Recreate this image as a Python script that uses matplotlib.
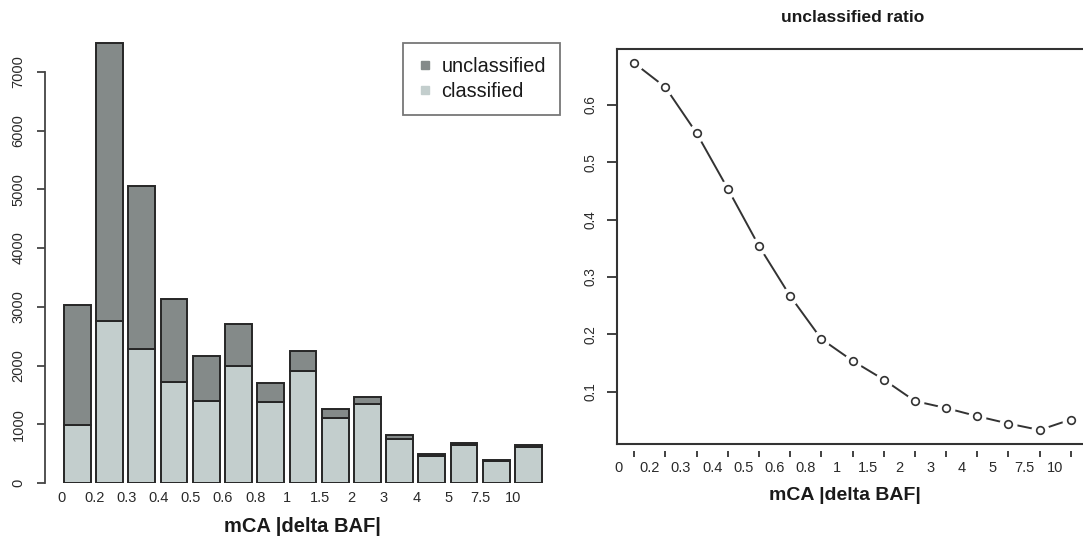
import matplotlib
matplotlib.use("Agg")
import matplotlib.pyplot as plt
from matplotlib.lines import Line2D
import numpy as np

plt.rcParams['font.family'] = ['Liberation Sans', 'DejaVu Sans']

# mCA |delta BAF| bins
bins = ["0", "0.2", "0.3", "0.4", "0.5", "0.6", "0.8", "1", "1.5", "2",
        "3", "4", "5", "7.5", "10"]

# counts per bin
classified = [989, 2766, 2273, 1713, 1393, 1989, 1372, 1902, 1103, 1347,
              754, 461, 646, 379, 609]
unclassified = [2037, 4731, 2790, 1425, 764, 724, 326, 346, 152, 123,
                58, 28, 30, 13, 33]

col_uncl = "#848a89"
col_cls = "#c3cecd"
edge = "#262626"
txt = "#2a2a2a"

W, H = 1083, 540
fig = plt.figure(figsize=(W / 100, H / 100), dpi=100)


def px_axes(left, top, right, bottom):
    return fig.add_axes([left / W, 1 - bottom / H, (right - left) / W, (bottom - top) / H])


# ---------------- stacked barplot ----------------
ax = px_axes(45, 36.6, 562, 483)
cls = np.array(classified)
unc = np.array(unclassified)
xpos = np.arange(len(bins)) * 1.2
ax.bar(xpos, cls, width=1.0, color=col_cls, edgecolor=edge, linewidth=1.4, zorder=2)
ax.bar(xpos, unc, bottom=cls, width=1.0, color=col_uncl, edgecolor=edge,
       linewidth=1.4, zorder=2)
ax.set_xlim(-1.208, 18.05)
ax.set_ylim(0, 7600)
for s in ("top", "right", "bottom"):
    ax.spines[s].set_visible(False)
ax.spines["left"].set_bounds(0, 7000)
ax.spines["left"].set_color("#444444")
ax.spines["left"].set_linewidth(1.3)
ax.set_yticks(np.arange(0, 7001, 1000))
ax.set_yticklabels([str(v) for v in range(0, 7001, 1000)], rotation=90,
                   va="center", fontsize=10.5, color=txt)
ax.tick_params(axis="y", length=6, width=1.3, color="#444444", pad=8)
ax.set_xticks(xpos - 0.58)
ax.set_xticklabels(bins, fontsize=10.5, color=txt)
ax.tick_params(axis="x", length=0, pad=6)
ax.set_xlabel("mCA |delta BAF|", fontsize=14.5, fontweight="bold", color="#1a1a1a")
ax.xaxis.set_label_coords((302 - 45) / (562 - 45), -(527 - 483) / (483 - 36.6))
ax.xaxis.label.set_va("center")

handles = [Line2D([], [], marker="s", linestyle="none", markersize=6,
                  markerfacecolor=col_uncl, markeredgecolor=col_uncl),
           Line2D([], [], marker="s", linestyle="none", markersize=6,
                  markerfacecolor=col_cls, markeredgecolor=col_cls)]
leg = ax.legend(handles, ["unclassified", "classified"], loc="upper right",
                bbox_to_anchor=(560 / W, 1 - 42.7 / H), bbox_transform=fig.transFigure,
                fontsize=14.3, frameon=True, fancybox=False, borderpad=0.7,
                handlelength=0.8, handletextpad=0.45, labelspacing=0.32,
                borderaxespad=0)
leg.get_frame().set_edgecolor("#555555")
leg.get_frame().set_linewidth(1.3)
for t in leg.get_texts():
    t.set_color("#1a1a1a")

# ---------------- ratio line plot ----------------
ratio = unc / (unc + cls)
ax2 = px_axes(616.7, 48.5, 1088.3, 444.2)
xr = np.arange(1, len(bins) + 1)
ax2.plot(xr, ratio, color="#333333", linewidth=1.4, zorder=1)
# white halo so the connecting line stops short of each point
ax2.plot(xr, ratio, linestyle="none", marker="o", markersize=12,
         markerfacecolor="white", markeredgecolor="white", zorder=2)
ax2.plot(xr, ratio, linestyle="none", marker="o", markersize=5.5,
         markerfacecolor="white", markeredgecolor="#333333",
         markeredgewidth=1.2, zorder=3)
ax2.set_xlim(0.44, 15.56)
ax2.set_ylim(0.0084, 0.6986)
for s in ax2.spines.values():
    s.set_color("#333333")
    s.set_linewidth(1.5)
ax2.set_yticks([0.1, 0.2, 0.3, 0.4, 0.5, 0.6])
ax2.set_yticklabels(["0.1", "0.2", "0.3", "0.4", "0.5", "0.6"], rotation=90,
                    va="center", fontsize=9.8, color=txt)
ax2.tick_params(axis="y", length=7, width=1.3, color="#333333", pad=6.5)
ax2.set_xticks(xr - 0.5)
ax2.set_xticklabels(bins, fontsize=10.5, color=txt)
ax2.tick_params(axis="x", length=0, pad=12)
sec = ax2.secondary_xaxis(-7 / 395.7)
sec.spines["bottom"].set_visible(False)
sec.set_xticks(xr)
sec.set_xticklabels([])
sec.tick_params(axis="x", length=4.5, width=1.3, color="#333333")
ax2.set_title("unclassified ratio", fontsize=12.5, fontweight="bold",
              color="#1a1a1a", pad=19)
ax2.set_xlabel("mCA |delta BAF|", fontsize=14, fontweight="bold", color="#1a1a1a")
ax2.xaxis.set_label_coords((845 - 616.7) / (1088.3 - 616.7),
                           -(496 - 444.2) / (444.2 - 48.5))
ax2.xaxis.label.set_va("center")

fig.savefig("out.png", dpi=100)
